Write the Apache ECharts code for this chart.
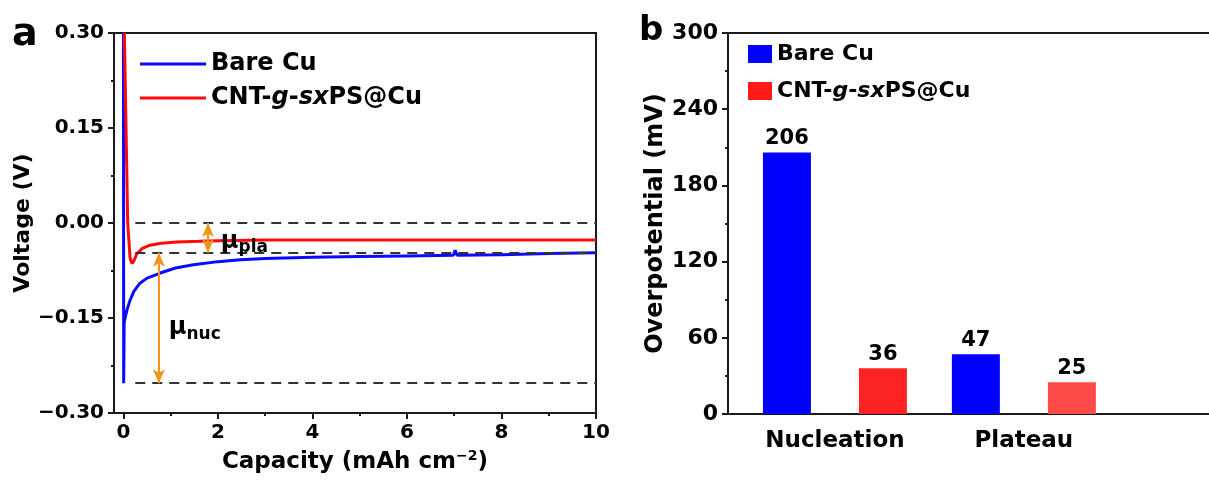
<!DOCTYPE html>
<html>
<head>
<meta charset="utf-8">
<script src="https://cdn.jsdelivr.net/npm/echarts@6/dist/echarts.min.js"></script>
<style>
html,body{margin:0;padding:0;background:#fff;}
#chart{width:1209px;height:484px;}
</style>
</head>
<body>
<div id="chart"></div>
<script>
// ---- Panel a: voltage profiles ----
const capBare  = [0.0, 0.005, 0.015, 0.04, 0.08, 0.14, 0.22, 0.35, 0.5, 0.78, 1.1, 1.48, 2.0, 2.47, 3.0, 4.0, 5.0, 6.0, 6.98, 7.02, 7.06, 8.0, 8.6, 9.0, 10.0];
const voltBare = [0.30, -0.253, -0.158, -0.148, -0.136, -0.122, -0.108, -0.095, -0.087, -0.079, -0.071, -0.066, -0.061, -0.058, -0.056, -0.054, -0.053, -0.052, -0.051, -0.043, -0.051, -0.050, -0.049, -0.048, -0.047];
const capCNT   = [0.02, 0.09, 0.14, 0.18, 0.22, 0.28, 0.4, 0.56, 0.8, 1.13, 1.6, 2.0, 3.0, 4.0, 6.0, 8.0, 10.0];
const voltCNT  = [0.30, 0.0, -0.055, -0.064, -0.060, -0.049, -0.040, -0.035, -0.032, -0.030, -0.029, -0.028, -0.027, -0.027, -0.027, -0.027, -0.027];
const xTickLabels = [0, 2, 4, 6, 8, 10];
const xMinorTicks = [1, 3, 5, 7, 9];
const refLevels = [0, -0.047, -0.253];      // dashed reference lines (V)
const nucArrow = [0.75, -0.047, -0.253];    // x, y1, y2
const plaArrow = [1.79, 0.0, -0.047];

// ---- Panel b: overpotentials ----
const barCategories = ['Nucleation', 'Plateau'];
const barPositions = [1, 2];
const bareCu = [206, 47];
const cntCu = [36, 25];

const FONT = 'DejaVu Sans';
const legendRich = {
  n: {fontFamily: FONT, fontWeight: 'bold', fontSize: 24, color: '#000'},
  i: {fontFamily: FONT, fontWeight: 'bold', fontStyle: 'italic', fontSize: 24, color: '#000'}
};
const legendRich2 = {
  n: {fontFamily: FONT, fontWeight: 'bold', fontSize: 22, color: '#000'},
  i: {fontFamily: FONT, fontWeight: 'bold', fontStyle: 'italic', fontSize: 22, color: '#000'}
};
const displayName = {
  'Bare Cu': '{n|Bare Cu}',
  'CNT-g-sxPS@Cu': '{n|CNT-}{i|g}{n|-}{i|sx}{n|PS@Cu}',
  'Bare Cu ': '{n|Bare Cu}',
  'CNT-g-sxPS@Cu ': '{n|CNT-}{i|g}{n|-}{i|sx}{n|PS@Cu}'
};

const axisCol = '#1a1a1a';
const lbl = (sz) => ({fontFamily: FONT, fontWeight: 'bold', fontSize: sz, color: '#000'});

function zip(a, b) { return a.map((v, i) => [v, b[i]]); }
function fmtV(v) { if (Math.abs(v) < 1e-9) return '0.00'; return v.toFixed(2).replace('-', '\u2212'); }

const chart = echarts.init(document.getElementById('chart'), null, {renderer: 'canvas'});

const lineIcon = 'path://M0,0 L66,0 L66,3 L0,3 Z';

const option = {
  backgroundColor: '#fff',
  animation: false,
  grid: [
    {left: 114, top: 33, width: 482, height: 380, show: true, borderColor: axisCol, borderWidth: 2, backgroundColor: 'transparent'},
    {left: 728, top: 33, right: 0, height: 381}
  ],
  xAxis: [
    {
      type: 'value', gridIndex: 0, min: -0.2, max: 10, position: 'bottom',
      name: 'Capacity (mAh cm{sup|\u22122})', nameLocation: 'middle', nameGap: 36,
      nameTextStyle: Object.assign(lbl(23), {rich: {sup: {fontFamily: FONT, fontWeight: 'bold', fontSize: 14, color: '#000', padding: [0, 0, 12, 0]}}}),
      axisLine: {show: true, onZero: false, lineStyle: {color: axisCol, width: 2}},
      axisTick: {show: true, inside: false, length: 6, customValues: xTickLabels, lineStyle: {color: axisCol, width: 2}},
      axisLabel: Object.assign(lbl(20), {margin: 10, customValues: xTickLabels}),
      splitLine: {show: false}
    },
    {
      type: 'value', gridIndex: 0, min: -0.2, max: 10, position: 'bottom',
      axisLine: {show: false, onZero: false},
      axisTick: {show: true, inside: false, length: 3, customValues: xMinorTicks, lineStyle: {color: axisCol, width: 2}},
      axisLabel: {show: false},
      splitLine: {show: false}
    },
    {
      type: 'value', gridIndex: 1, min: 0.434, max: 2.98, position: 'bottom',
      axisLine: {show: true, onZero: false, lineStyle: {color: axisCol, width: 2}},
      axisTick: {show: false},
      axisLabel: Object.assign(lbl(23), {margin: 16, customValues: barPositions, formatter: (v) => barCategories[barPositions.indexOf(v)] || ''}),
      splitLine: {show: false}
    },
    {
      type: 'value', gridIndex: 1, min: 0.434, max: 2.98, position: 'top',
      axisLine: {show: true, onZero: false, lineStyle: {color: axisCol, width: 2}},
      axisTick: {show: false}, axisLabel: {show: false}, splitLine: {show: false}
    }
  ],
  yAxis: [
    {
      type: 'value', gridIndex: 0, min: -0.3, max: 0.3, interval: 0.15,
      name: 'Voltage (V)', nameLocation: 'middle', nameGap: 74, nameTextStyle: lbl(22),
      axisLine: {show: true, onZero: false, lineStyle: {color: axisCol, width: 2}},
      axisTick: {show: true, inside: false, length: 6, lineStyle: {color: axisCol, width: 2}},
      minorTick: {show: true, splitNumber: 2, length: 3, lineStyle: {color: axisCol, width: 2}},
      axisLabel: Object.assign(lbl(20), {margin: 10, formatter: fmtV}),
      splitLine: {show: false}
    },
    {
      type: 'value', gridIndex: 1, min: 0, max: 300, interval: 60,
      name: 'Overpotential (mV)', nameLocation: 'middle', nameGap: 60, nameTextStyle: lbl(24),
      axisLine: {show: true, onZero: false, lineStyle: {color: axisCol, width: 2}},
      axisTick: {show: true, inside: false, length: 6, lineStyle: {color: axisCol, width: 2}},
      minorTick: {show: true, splitNumber: 2, length: 3, lineStyle: {color: axisCol, width: 2}},
      axisLabel: Object.assign(lbl(22), {margin: 10}),
      splitLine: {show: false}
    }
  ],
  legend: [
    {
      orient: 'vertical', left: 140, top: 52, padding: 0, itemWidth: 66, itemHeight: 3, itemGap: 10,
      data: [{name: 'Bare Cu', icon: lineIcon}, {name: 'CNT-g-sxPS@Cu', icon: lineIcon}],
      formatter: (n) => displayName[n],
      textStyle: {rich: legendRich, fontFamily: FONT, fontWeight: 'bold', fontSize: 24, color: '#000'},
      selectedMode: false
    },
    {
      orient: 'vertical', left: 748, top: 43, padding: 0, itemWidth: 24, itemHeight: 18, itemGap: 15, icon: 'rect',
      data: ['Bare Cu ', 'CNT-g-sxPS@Cu '],
      formatter: (n) => displayName[n],
      textStyle: {rich: legendRich2, fontFamily: FONT, fontWeight: 'bold', fontSize: 22, color: '#000'},
      selectedMode: false
    }
  ],
  graphic: [
    {type: 'text', left: 12, top: 16, style: {text: 'a', font: 'bold 38px "DejaVu Sans"', fill: '#000'}},
    {type: 'text', left: 639, top: 14, style: {text: 'b', font: 'bold 34px "DejaVu Sans"', fill: '#000'}}
  ],
  series: [
    {
      name: 'Bare Cu', type: 'line', xAxisIndex: 0, yAxisIndex: 0,
      data: zip(capBare, voltBare), symbol: 'none', smooth: false,
      lineStyle: {color: '#0a0aff', width: 3}, itemStyle: {color: '#0a0aff'}, z: 3,
      markLine: {
        silent: true, symbol: 'none', animation: false,
        lineStyle: {color: '#333', width: 2, type: [10, 7]},
        label: {show: false},
        data: refLevels.map((y) => [{coord: [0.25, y]}, {coord: [10, y]}])
      }
    },
    {
      name: 'CNT-g-sxPS@Cu', type: 'line', xAxisIndex: 0, yAxisIndex: 0,
      data: zip(capCNT, voltCNT), symbol: 'none', smooth: false,
      lineStyle: {color: '#ff0a0a', width: 3}, itemStyle: {color: '#ff0a0a'}, z: 4,
      markLine: {
        silent: true, symbol: ['arrow', 'arrow'], symbolSize: [9, 14], animation: false,
        lineStyle: {color: '#f39419', width: 2, type: 'solid'},
        label: {show: false},
        data: [
          [{coord: [nucArrow[0], nucArrow[1]]}, {coord: [nucArrow[0], nucArrow[2]]}],
          [{coord: [plaArrow[0], plaArrow[1]]}, {coord: [plaArrow[0], plaArrow[2]]}]
        ]
      },
      markPoint: {
        silent: true, symbol: 'circle', symbolSize: 1, itemStyle: {color: 'rgba(0,0,0,0)'},
        label: {
          show: true, position: 'right', distance: 0, color: '#000',
          formatter: (p) => '{m|\u03bc}{s|' + p.name + '}',
          rich: {
            m: {fontFamily: FONT, fontWeight: 'bold', fontSize: 24, color: '#000'},
            s: {fontFamily: FONT, fontWeight: 'bold', fontSize: 17, color: '#000', padding: [12, 0, 0, 0]}
          }
        },
        data: [
          {name: 'nuc', coord: [0.95, -0.166]},
          {name: 'pla', coord: [2.05, -0.030]}
        ]
      }
    },
    {
      name: 'Bare Cu ', type: 'bar', xAxisIndex: 2, yAxisIndex: 1,
      data: zip(barPositions, bareCu), barWidth: 48, barGap: '100%',
      itemStyle: {color: '#0000ff'},
      label: Object.assign(lbl(21), {show: true, position: 'top', distance: 3, formatter: (p) => p.value[1]})
    },
    {
      name: 'CNT-g-sxPS@Cu ', type: 'bar', xAxisIndex: 2, yAxisIndex: 1,
      data: zip(barPositions, cntCu).map((d, i) => ({value: d, itemStyle: {color: i === 0 ? '#ff2424' : '#ff4a4a'}})),
      barWidth: 48, barGap: '100%',
      itemStyle: {color: '#ff1a1a'},
      label: Object.assign(lbl(21), {show: true, position: 'top', distance: 3, formatter: (p) => p.value[1]})
    }
  ]
};
chart.setOption(option);
</script>
</body>
</html>
